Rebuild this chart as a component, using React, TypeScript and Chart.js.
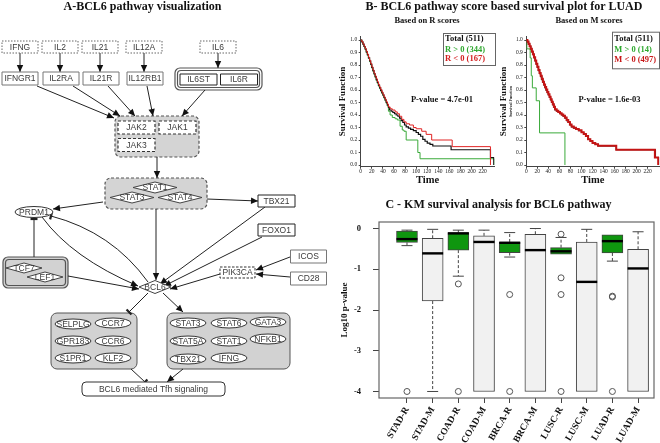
import React, { useEffect, useRef } from "react";
import { Chart, registerables } from "chart.js";
Chart.register(...registerables);

const SERIF = "'Liberation Serif', 'Times New Roman', serif";
const SANS = "'Liberation Sans', Arial, sans-serif";

// ---------------- Panel A : pathway diagram (diagram units = pixels of a 330x443 panel)
const diagramComplexes: [number, number, number, number, string][] = [
  [218.5, 79, 87, 22, "double"],
  [157, 136.5, 84, 41, "dashed"],
  [156, 193.5, 102, 31, "dashed"],
  [35.5, 272.5, 65, 31, "doubleGray"],
  [94, 341, 86, 56, "group"],
  [228.5, 341, 123, 56, "group"],
];
const diagramNodes: [string, number, number, string][] = [
  ["IFNG", 20, 47, "dotted"], ["IL2", 60, 47, "dotted"], ["IL21", 100, 47, "dotted"], ["IL12A", 144, 47, "dotted"], ["IL6", 218, 47, "dotted"],
  ["IFNGR1", 20, 78.5, "box"], ["IL2RA", 61, 78.5, "box"], ["IL21R", 101, 78.5, "box"], ["IL12RB1", 145, 78.5, "box"],
  ["IL6ST", 198.5, 79.5, "inner"], ["IL6R", 239, 79.5, "inner"],
  ["JAK2", 136.5, 127.5, "jak"], ["JAK1", 177.5, 127.5, "jak"], ["JAK3", 136.5, 145, "jak"],
  ["STAT1", 155, 187.5, "diamond"], ["STAT3", 132, 197.5, "diamond"], ["STAT4", 180, 197.5, "diamond"],
  ["PRDM1", 34, 212, "prdm1"],
  ["TBX21", 276.5, 201, "darkbox"], ["FOXO1", 276.5, 230, "darkbox"],
  ["ICOS", 308.5, 256.5, "box"], ["CD28", 308.5, 278.5, "box"],
  ["PIK3CA", 237.5, 272.5, "pik"],
  ["TCF7", 24, 268, "diamondSm"], ["LEF1", 45, 277, "diamondSm"],
  ["BCL6", 155, 287, "bcl6"],
  ["SELPLG", 73, 324, "ellipse"], ["CCR7", 113, 323, "ellipse"], ["GPR183", 73, 341, "ellipse"], ["CCR6", 113, 341, "ellipse"], ["S1PR1", 73, 358, "ellipse"], ["KLF2", 113, 358, "ellipse"],
  ["STAT3", 188, 323, "ellipse"], ["STAT6", 229, 323, "ellipse"], ["GATA3", 268, 322, "ellipse"], ["STAT5A", 188, 341, "ellipse"], ["STAT1", 229, 341, "ellipse"], ["NFKB1", 268, 339, "ellipse"], ["TBX21", 188, 359, "ellipse"], ["IFNG", 229, 358, "ellipse"],
  ["BCL6 mediated Tfh signaling", 153.5, 389, "process"],
];
const diagramEdges: [number, number, number, number, string][] = [
  [20, 53, 20, 72, "a"], [60, 53, 60, 72, "a"], [100, 53, 100, 72, "a"], [144, 53, 144, 72, "a"], [218, 53, 218, 68, "a"],
  [37, 86, 114, 118, "a"], [73, 86, 120, 116, "a"], [108, 86, 135, 116, "a"], [147, 86, 153, 116, "a"], [205, 90, 182, 116, "a"],
  [157, 157, 157, 178, "a"],
  [103, 202, 53, 209, "a"], [207, 199, 258, 201, "a"], [156, 209, 156, 280, "a"],
  [34, 257, 34, 219, "i"],
  [68, 276, 139, 289, "a"],
  [265, 207, 160, 284, "a"], [262, 237, 164, 286, "a"], [220, 274, 170, 289, "a"],
  [290, 257, 256, 270, "a"], [290, 277, 256, 274, "a"],
  [148, 293, 129, 312, "i"], [163, 293, 183, 312, "a"],
  [131, 369, 145, 382, "i"], [183, 369, 167, 382, "a"],
];
const diagramCurves: [number, number, number, number, number, number, string][] = [
  [42, 217, 72, 258, 138, 286, "a"],
  [148, 282, 112, 232, 51, 216, "i"],
];

// ---------------- Panel B : KM curves
const kmTimeTicks = [0, 20, 40, 60, 80, 100, 120, 140, 160, 180, 200, 220];
const kmSurvTicks = [0, 0.1, 0.2, 0.3, 0.4, 0.5, 0.6, 0.7, 0.8, 0.9, 1.0];

const kmTotalT = [0, 2, 4, 6, 8, 10, 12, 14, 16, 18, 20, 22, 24, 26, 28, 30, 32, 34, 36, 38, 40, 42, 44, 46, 48, 50, 52, 55, 58, 61, 64, 67, 70, 73, 76, 79, 82, 86, 90, 95, 100, 104, 108, 112, 116, 120, 125, 130, 163, 234, 240];
const kmTotalS = [1, 0.985, 0.967, 0.948, 0.928, 0.905, 0.882, 0.857, 0.832, 0.806, 0.78, 0.755, 0.73, 0.707, 0.683, 0.66, 0.638, 0.617, 0.597, 0.578, 0.56, 0.54, 0.52, 0.5, 0.48, 0.46, 0.44, 0.43, 0.42, 0.41, 0.4, 0.39, 0.375, 0.355, 0.34, 0.32, 0.305, 0.295, 0.285, 0.275, 0.26, 0.245, 0.23, 0.205, 0.19, 0.175, 0.165, 0.152, 0.122, 0.06, 0];

const kmRposT = [0, 2, 4, 6, 8, 10, 12, 14, 16, 18, 20, 22, 24, 26, 28, 30, 32, 34, 36, 38, 40, 42, 44, 46, 48, 50, 53, 57, 62, 66, 71, 75, 78, 82, 103, 107, 241];
const kmRposS = [1, 0.984, 0.964, 0.944, 0.924, 0.9, 0.877, 0.852, 0.826, 0.8, 0.774, 0.749, 0.724, 0.7, 0.676, 0.653, 0.63, 0.61, 0.59, 0.572, 0.553, 0.533, 0.513, 0.493, 0.472, 0.43, 0.4, 0.38, 0.37, 0.36, 0.31, 0.28, 0.27, 0.2, 0.1, 0.05, 0];

const kmRnegT = [0, 2, 4, 6, 8, 10, 12, 14, 16, 18, 20, 22, 24, 26, 28, 30, 32, 34, 36, 38, 40, 42, 44, 46, 48, 50, 53, 57, 62, 66, 70, 74, 78, 82, 88, 95, 100, 110, 118, 128, 165, 234];
const kmRnegS = [1, 0.988, 0.97, 0.952, 0.932, 0.91, 0.887, 0.862, 0.838, 0.812, 0.786, 0.761, 0.736, 0.713, 0.69, 0.667, 0.645, 0.624, 0.604, 0.585, 0.566, 0.546, 0.527, 0.507, 0.488, 0.465, 0.45, 0.44, 0.425, 0.41, 0.39, 0.365, 0.345, 0.33, 0.32, 0.3, 0.29, 0.27, 0.245, 0.2, 0.147, 0];

const kmMposT = [0, 1, 7, 9, 11, 18, 24, 70];
const kmMposS = [1, 0.929, 0.857, 0.714, 0.617, 0.514, 0.257, 0];

const kmMnegT = [0, 2, 4, 6, 8, 10, 12, 14, 16, 18, 20, 22, 24, 26, 28, 30, 32, 34, 36, 38, 40, 42, 44, 46, 48, 50, 52, 55, 58, 61, 64, 67, 70, 73, 76, 79, 82, 86, 90, 95, 100, 104, 108, 112, 116, 120, 125, 130, 163, 233, 239];
const kmMnegS = [1, 0.988, 0.97, 0.951, 0.931, 0.909, 0.886, 0.862, 0.837, 0.811, 0.786, 0.761, 0.737, 0.714, 0.69, 0.667, 0.645, 0.624, 0.604, 0.585, 0.566, 0.546, 0.526, 0.506, 0.486, 0.466, 0.446, 0.435, 0.425, 0.415, 0.405, 0.395, 0.38, 0.36, 0.344, 0.324, 0.309, 0.298, 0.288, 0.278, 0.263, 0.248, 0.233, 0.207, 0.192, 0.177, 0.167, 0.154, 0.123, 0.06, 0];

const kmRLegend = ["Total (511)", "R > 0 (344)", "R < 0 (167)"];
const kmMLegend = ["Total (511)", "M > 0 (14)", "M < 0 (497)"];
const kmRPvalue = "P-value = 4.7e-01";
const kmMPvalue = "P-value = 1.6e-03";

// ---------------- Panel C : box plot of log10 p-values
const boxCategories = ["STAD-R", "STAD-M", "COAD-R", "COAD-M", "BRCA-R", "BRCA-M", "LUSC-R", "LUSC-M", "LUAD-R", "LUAD-M"];
const boxWhiskerHigh = [-0.04, -0.02, -0.04, -0.04, -0.1, 0.0, -0.22, -0.02, -0.155, -0.08];
const boxQ3 = [-0.065, -0.24, -0.1, -0.18, -0.33, -0.14, -0.47, -0.33, -0.155, -0.51];
const boxMedian = [-0.26, -0.61, -0.12, -0.33, -0.35, -0.53, -0.56, -1.31, -0.31, -0.98];
const boxQ1 = [-0.34, -1.78, -0.53, -4.0, -0.59, -4.0, -0.63, -4.0, -0.6, -4.0];
const boxWhiskerLow = [-0.42, -4.0, -1.17, -4.0, -0.7, -4.0, -0.64, -4.0, -0.8, -4.0];
const outlierGroup = [1, 3, 3, 5, 5, 7, 7, 7, 7, 9, 9, 9];
const outlierValue = [-4.0, -1.36, -4.0, -1.62, -4.0, -0.14, -1.21, -1.62, -4.0, -1.66, -1.68, -4.0];
const boxYTicks = [0, -1, -2, -3, -4];

// ---------------- drawing helpers
const KIND_SIZE: Record<string, [number, number]> = {
  dotted: [36, 12], box: [36, 13], inner: [37, 11], darkbox: [37, 12], jak: [37, 13], pik: [35, 11],
  diamond: [44, 11], diamondSm: [36, 10], bcl6: [32, 13], ellipse: [36, 10], prdm1: [38, 11], process: [143, 14],
};

function roundRectPath(ctx: CanvasRenderingContext2D, x: number, y: number, w: number, h: number, r: number) {
  ctx.beginPath();
  ctx.moveTo(x + r, y);
  ctx.lineTo(x + w - r, y);
  ctx.arcTo(x + w, y, x + w, y + r, r);
  ctx.lineTo(x + w, y + h - r);
  ctx.arcTo(x + w, y + h, x + w - r, y + h, r);
  ctx.lineTo(x + r, y + h);
  ctx.arcTo(x, y + h, x, y + h - r, r);
  ctx.lineTo(x, y + r);
  ctx.arcTo(x, y, x + r, y, r);
  ctx.closePath();
}

function endMarker(ctx: CanvasRenderingContext2D, fx: number, fy: number, x: number, y: number, type: string) {
  const a = Math.atan2(y - fy, x - fx);
  const c = Math.cos(a), s = Math.sin(a);
  if (type === "a") {
    const L = 7, W = 3.2;
    ctx.beginPath();
    ctx.moveTo(x, y);
    ctx.lineTo(x - L * c + W * s, y - L * s - W * c);
    ctx.lineTo(x - L * c - W * s, y - L * s + W * c);
    ctx.closePath();
    ctx.fill();
  } else {
    ctx.save();
    ctx.lineWidth = 2.2;
    ctx.beginPath();
    ctx.moveTo(x + 3.5 * s, y - 3.5 * c);
    ctx.lineTo(x - 3.5 * s, y + 3.5 * c);
    ctx.stroke();
    ctx.restore();
  }
}

const diagramPlugin = {
  id: "diagram",
  afterDatasetsDraw(chart: any) {
    const ctx: CanvasRenderingContext2D = chart.ctx;
    const xs = chart.scales.x, ys = chart.scales.y;
    const X = (v: number) => xs.getPixelForValue(v);
    const Y = (v: number) => ys.getPixelForValue(v);
    const W = (v: number) => Math.abs(xs.getPixelForValue(v) - xs.getPixelForValue(0));
    const H = (v: number) => Math.abs(ys.getPixelForValue(v) - ys.getPixelForValue(0));
    ctx.save();
    // complexes
    diagramComplexes.forEach(([cx, cy, w, h, kind]) => {
      const x = X(cx) - W(w) / 2, y = Y(cy) - H(h) / 2, ww = W(w), hh = H(h);
      ctx.setLineDash([]);
      ctx.lineWidth = 1;
      ctx.strokeStyle = "#555";
      if (kind === "double" || kind === "doubleGray") {
        roundRectPath(ctx, x, y, ww, hh, 5);
        ctx.fillStyle = kind === "double" ? "#ffffff" : "#d2d2d2";
        ctx.fill();
        ctx.lineWidth = 1.2;
        ctx.stroke();
        roundRectPath(ctx, x + 2.5, y + 2.5, ww - 5, hh - 5, 3.5);
        ctx.stroke();
      } else if (kind === "dashed") {
        roundRectPath(ctx, x, y, ww, hh, 6);
        ctx.fillStyle = "#d4d4d4";
        ctx.fill();
        ctx.setLineDash([3, 2]);
        ctx.lineWidth = 1.2;
        ctx.stroke();
      } else {
        roundRectPath(ctx, x, y, ww, hh, 6);
        ctx.fillStyle = "#d2d2d2";
        ctx.fill();
        ctx.lineWidth = 1;
        ctx.stroke();
      }
    });
    // edges
    ctx.setLineDash([]);
    ctx.strokeStyle = "#222";
    ctx.fillStyle = "#111";
    ctx.lineWidth = 1;
    diagramEdges.forEach(([x1, y1, x2, y2, type]) => {
      ctx.beginPath();
      ctx.moveTo(X(x1), Y(y1));
      ctx.lineTo(X(x2), Y(y2));
      ctx.stroke();
      endMarker(ctx, X(x1), Y(y1), X(x2), Y(y2), type);
    });
    diagramCurves.forEach(([x1, y1, qx, qy, x2, y2, type]) => {
      ctx.beginPath();
      ctx.moveTo(X(x1), Y(y1));
      ctx.quadraticCurveTo(X(qx), Y(qy), X(x2), Y(y2));
      ctx.stroke();
      endMarker(ctx, X(qx), Y(qy), X(x2), Y(y2), type);
    });
    // nodes
    diagramNodes.forEach(([label, cx, cy, kind]) => {
      const [w, h] = KIND_SIZE[kind];
      const px = X(cx), py = Y(cy), ww = W(w), hh = H(h);
      ctx.setLineDash([]);
      ctx.lineWidth = 1;
      ctx.fillStyle = "#ffffff";
      ctx.strokeStyle = "#444";
      if (kind === "diamond" || kind === "diamondSm" || kind === "bcl6") {
        ctx.beginPath();
        ctx.moveTo(px - ww / 2, py);
        ctx.lineTo(px, py - hh / 2);
        ctx.lineTo(px + ww / 2, py);
        ctx.lineTo(px, py + hh / 2);
        ctx.closePath();
        ctx.fill();
        ctx.stroke();
      } else if (kind === "ellipse" || kind === "prdm1") {
        ctx.beginPath();
        ctx.ellipse(px, py, ww / 2, hh / 2, 0, 0, Math.PI * 2);
        ctx.fill();
        ctx.strokeStyle = "#333";
        ctx.stroke();
      } else if (kind === "process") {
        roundRectPath(ctx, px - ww / 2, py - hh / 2, ww, hh, 4);
        ctx.fill();
        ctx.strokeStyle = "#333";
        ctx.stroke();
      } else {
        if (kind === "dotted") { ctx.setLineDash([1.5, 1.5]); ctx.strokeStyle = "#666"; }
        if (kind === "box") { ctx.strokeStyle = "#777"; }
        if (kind === "inner" || kind === "darkbox") { ctx.strokeStyle = "#222"; }
        if (kind === "jak") { ctx.setLineDash([3, 2]); ctx.strokeStyle = "#333"; ctx.lineWidth = 1.2; }
        if (kind === "pik") { ctx.setLineDash([2.5, 1.5]); ctx.strokeStyle = "#333"; }
        ctx.beginPath();
        ctx.rect(px - ww / 2, py - hh / 2, ww, hh);
        ctx.fill();
        ctx.stroke();
      }
      ctx.setLineDash([]);
      ctx.fillStyle = "#3a3a3a";
      ctx.font = `8.5px ${SANS}`;
      ctx.textAlign = "center";
      ctx.textBaseline = "middle";
      ctx.fillText(label, px, py + 0.5);
    });
    ctx.restore();
  },
};

function diagramConfig(): any {
  return {
    type: "scatter",
    data: { datasets: [{ data: diagramNodes.map((n) => ({ x: n[1], y: n[2] })), pointRadius: 0 }] },
    options: {
      responsive: false,
      animation: false,
      events: [],
      layout: { padding: 0 },
      plugins: { legend: { display: false }, tooltip: { enabled: false } },
      scales: {
        x: { type: "linear", min: 0, max: 330, display: false },
        y: { type: "linear", min: 0, max: 443, reverse: true, display: false },
      },
    },
    plugins: [diagramPlugin],
  };
}

// ---------------- KM chart config
function kmConfig(o: any): any {
  const annot = {
    id: "kmAnnot",
    afterDraw(chart: any) {
      const ctx: CanvasRenderingContext2D = chart.ctx;
      ctx.save();
      const [bx, by, bw, bh] = o.legendBox;
      ctx.strokeStyle = "#666";
      ctx.lineWidth = 1;
      ctx.strokeRect(bx + 0.5, by + 0.5, bw, bh);
      ctx.font = `bold 8.5px ${SERIF}`;
      ctx.textBaseline = "middle";
      ctx.textAlign = "left";
      o.legendLabels.forEach((lab: string, i: number) => {
        ctx.fillStyle = o.legendColors[i];
        ctx.fillText(lab, o.legendTextX, o.legendY[i]);
      });
      ctx.fillStyle = "#111";
      ctx.textAlign = "center";
      ctx.font = `bold 8.5px ${SERIF}`;
      ctx.fillText(o.pText, o.pPos[0], o.pPos[1]);
      if (o.extraYTitle) {
        const ca = chart.chartArea;
        ctx.translate(o.extraYTitle, (ca.top + ca.bottom) / 2);
        ctx.rotate(-Math.PI / 2);
        ctx.font = `bold 4px ${SERIF}`;
        ctx.fillStyle = "#222";
        ctx.fillText("Survival Function", 0, 0);
      }
      ctx.restore();
    },
  };
  return {
    type: "line",
    data: {
      datasets: o.series.map((se: any) => ({
        data: se.t.map((t: number, i: number) => ({ x: t, y: se.s[i] })),
        borderColor: se.color,
        borderWidth: se.width,
        stepped: "before",
        pointRadius: 0,
        fill: false,
        order: se.order,
      })),
    },
    options: {
      responsive: false,
      animation: false,
      events: [],
      layout: { padding: { left: 0, top: o.padTop, right: o.padRight, bottom: 0 } },
      plugins: { legend: { display: false }, tooltip: { enabled: false } },
      scales: {
        x: {
          type: "linear",
          min: 0,
          max: 241,
          afterBuildTicks: (sc: any) => { sc.ticks = kmTimeTicks.map((v) => ({ value: v })); },
          afterFit: (sc: any) => { sc.height = o.xAxisH; },
          grid: { display: true, drawOnChartArea: false, drawTicks: true, tickLength: 2, color: "#444" },
          border: { display: true, color: "#444", width: 1 },
          ticks: { font: { family: SERIF, size: 5.5 }, color: "#222", padding: 0, maxRotation: 0, autoSkip: false, callback: (v: number) => String(v) },
          title: { display: true, text: "Time", color: "#111", font: { family: SERIF, size: 10.5, weight: "bold" }, padding: { top: 0, bottom: o.xTitlePad } },
        },
        y: {
          type: "linear",
          min: -0.014,
          max: 1.03,
          afterBuildTicks: (sc: any) => { sc.ticks = kmSurvTicks.map((v) => ({ value: v })); },
          afterFit: (sc: any) => { sc.width = o.yAxisW; },
          grid: { display: true, drawOnChartArea: false, drawTicks: true, tickLength: 2, color: "#444" },
          border: { display: true, color: "#444", width: 1 },
          ticks: { font: { family: SERIF, size: 5.5 }, color: "#222", padding: 1.5, autoSkip: false, callback: (v: number) => Number(v).toFixed(1) },
          title: { display: true, text: "Survival Function", color: "#111", font: { family: SERIF, size: 9, weight: "bold" }, padding: { top: o.yTitlePad, bottom: 0 } },
        },
      },
    },
    plugins: [annot],
  };
}

const KM_GREEN = "#3aaa3a";
const KM_RED = "#e02424";

function kmRConfig() {
  return kmConfig({
    series: [
      { t: kmRnegT, s: kmRnegS, color: KM_RED, width: 1, order: 1 },
      { t: kmTotalT, s: kmTotalS, color: "#111", width: 1.2, order: 2 },
      { t: kmRposT, s: kmRposS, color: KM_GREEN, width: 1, order: 3 },
    ],
    padTop: 11.25, padRight: 5.65, yAxisW: 30.7, xAxisH: 28.25, xTitlePad: 8.4, yTitlePad: 7.3,
    legendBox: [113, 8, 52, 32], legendTextX: 115, legendY: [14, 24.3, 34],
    legendLabels: kmRLegend, legendColors: ["#111", "#2fa82f", "#d42020"],
    pText: kmRPvalue, pPos: [112, 75], extraYTitle: 0,
  });
}
function kmMConfig() {
  return kmConfig({
    series: [
      { t: kmMnegT, s: kmMnegS, color: "#c41414", width: 2, order: 1 },
      { t: kmTotalT, s: kmTotalS, color: "#111", width: 1.2, order: 2 },
      { t: kmMposT, s: kmMposS, color: KM_GREEN, width: 1, order: 3 },
    ],
    padTop: 11.25, padRight: 0.7, yAxisW: 29.3, xAxisH: 28.25, xTitlePad: 8.4, yTitlePad: 1.3,
    legendBox: [115, 6.7, 47, 36.6], legendTextX: 117.3, legendY: [14, 24.3, 34.3],
    legendLabels: kmMLegend, legendColors: ["#111", "#2fa82f", "#c81818"],
    pText: kmMPvalue, pPos: [112.5, 75], extraYTitle: 14,
  });
}

// ---------------- box plot config
const BOX_GREEN = "#0f960f";
function boxConfig(): any {
  const boxPlugin = {
    id: "boxExtras",
    afterDatasetsDraw(chart: any) {
      const ctx: CanvasRenderingContext2D = chart.ctx;
      const xs = chart.scales.x, ys = chart.scales.y;
      const half = 10.5, cap = 5.5;
      ctx.save();
      ctx.strokeStyle = "#444";
      ctx.lineWidth = 1;
      boxCategories.forEach((_, i) => {
        const px = xs.getPixelForValue(i + 1);
        const yHi = ys.getPixelForValue(boxWhiskerHigh[i]);
        const yQ3 = ys.getPixelForValue(boxQ3[i]);
        const yQ1 = ys.getPixelForValue(boxQ1[i]);
        const yLo = ys.getPixelForValue(boxWhiskerLow[i]);
        const yMed = ys.getPixelForValue(boxMedian[i]);
        ctx.setLineDash([3, 2]);
        if (Math.abs(yQ3 - yHi) > 0.5) {
          ctx.beginPath(); ctx.moveTo(px, yQ3); ctx.lineTo(px, yHi); ctx.stroke();
        }
        if (Math.abs(yLo - yQ1) > 0.5) {
          ctx.beginPath(); ctx.moveTo(px, yQ1); ctx.lineTo(px, yLo); ctx.stroke();
        }
        ctx.setLineDash([]);
        if (Math.abs(yQ3 - yHi) > 0.5) {
          ctx.beginPath(); ctx.moveTo(px - cap, yHi); ctx.lineTo(px + cap, yHi); ctx.stroke();
        }
        if (Math.abs(yLo - yQ1) > 0.5) {
          ctx.beginPath(); ctx.moveTo(px - cap, yLo); ctx.lineTo(px + cap, yLo); ctx.stroke();
        }
        ctx.save();
        ctx.strokeStyle = "#000";
        ctx.lineWidth = 2.4;
        ctx.beginPath(); ctx.moveTo(px - half, yMed); ctx.lineTo(px + half, yMed); ctx.stroke();
        ctx.restore();
      });
      const ca = chart.chartArea;
      ctx.strokeStyle = "#666";
      ctx.lineWidth = 1.2;
      ctx.strokeRect(ca.left, ca.top, ca.right - ca.left, ca.bottom - ca.top);
      ctx.restore();
    },
  };
  return {
    type: "bar",
    data: {
      datasets: [
        {
          type: "bar",
          data: boxCategories.map((_, i) => ({ x: i + 1, y: [boxQ1[i], boxQ3[i]] })),
          backgroundColor: boxCategories.map((c) => (c.endsWith("-R") ? BOX_GREEN : "#f1f1f1")),
          borderColor: "#444",
          borderWidth: 1,
          borderSkipped: false,
          barThickness: 21,
          order: 2,
        },
        {
          type: "scatter",
          data: outlierGroup.map((g, i) => ({ x: g, y: outlierValue[i] })),
          pointStyle: "circle",
          pointRadius: 3,
          pointBackgroundColor: "rgba(255,255,255,0)",
          pointBorderColor: "#555",
          pointBorderWidth: 1,
          order: 1,
        },
      ],
    },
    options: {
      responsive: false,
      animation: false,
      events: [],
      layout: { padding: { left: 0, top: 27, right: 6, bottom: 0 } },
      plugins: { legend: { display: false }, tooltip: { enabled: false } },
      scales: {
        x: {
          type: "linear",
          min: -0.09,
          max: 10.62,
          offset: false,
          afterBuildTicks: (sc: any) => { sc.ticks = boxCategories.map((_, i) => ({ value: i + 1 })); },
          afterFit: (sc: any) => { sc.height = 45; },
          grid: { display: true, drawOnChartArea: false, drawTicks: true, tickLength: 5, color: "#444", offset: false },
          border: { display: false },
          ticks: {
            autoSkip: false, maxRotation: 60, minRotation: 60, padding: 2, color: "#111",
            font: { family: SERIF, size: 9.5, weight: "bold" },
            callback: (v: number) => boxCategories[Math.round(v) - 1] ?? "",
          },
        },
        y: {
          type: "linear",
          min: -4.16,
          max: 0.16,
          afterBuildTicks: (sc: any) => { sc.ticks = boxYTicks.map((v) => ({ value: v })); },
          afterFit: (sc: any) => { sc.width = 49; },
          grid: { display: true, drawOnChartArea: false, drawTicks: true, tickLength: 6, color: "#444" },
          border: { display: false },
          ticks: { padding: 12, color: "#111", font: { family: SERIF, size: 8.5, weight: "bold" }, callback: (v: number) => String(v) },
          title: { display: true, text: "Log10 p-value", color: "#111", font: { family: SERIF, size: 9, weight: "bold" }, padding: { top: 9.6, bottom: 0 } },
        },
      },
    },
    plugins: [boxPlugin],
  };
}

function ChartCanvas({ make, left, top, width, height }: any) {
  const ref = useRef<HTMLCanvasElement>(null);
  useEffect(() => {
    const chart = new Chart(ref.current as HTMLCanvasElement, make());
    return () => chart.destroy();
  }, []);
  return <canvas ref={ref} width={width} height={height} style={{ position: "absolute", left, top, width, height }} />;
}

function Label({ text, cx, cy, size, color = "#111" }: any) {
  return (
    <div
      style={{
        position: "absolute", left: cx - 200, width: 400, top: cy - size * 0.65, textAlign: "center",
        font: `bold ${size}px ${SERIF}`, lineHeight: `${size * 1.3}px`, color, whiteSpace: "nowrap",
      }}
    >
      {text}
    </div>
  );
}

export default function App() {
  return (
    <div style={{ position: "absolute", left: 0, top: 0, width: 660, height: 443, background: "#fff", overflow: "hidden" }}>
      <ChartCanvas make={diagramConfig} left={0} top={0} width={330} height={443} />
      <ChartCanvas make={kmRConfig} left={330} top={25} width={170} height={170} />
      <ChartCanvas make={kmMConfig} left={497} top={25} width={163} height={170} />
      <ChartCanvas make={boxConfig} left={330} top={195} width={330} height={248} />
      <Label text="A-BCL6 pathway visualization" cx={142.5} cy={7} size={12} />
      <Label text="B- BCL6 pathway score based survival plot for LUAD" cx={504} cy={7} size={12} />
      <Label text="Based on R scores" cx={427} cy={21} size={8.5} />
      <Label text="Based on M scores" cx={589} cy={21} size={8.5} />
      <Label text="C - KM survival analysis for BCL6 pathway" cx={498.5} cy={205} size={12} />
    </div>
  );
}
